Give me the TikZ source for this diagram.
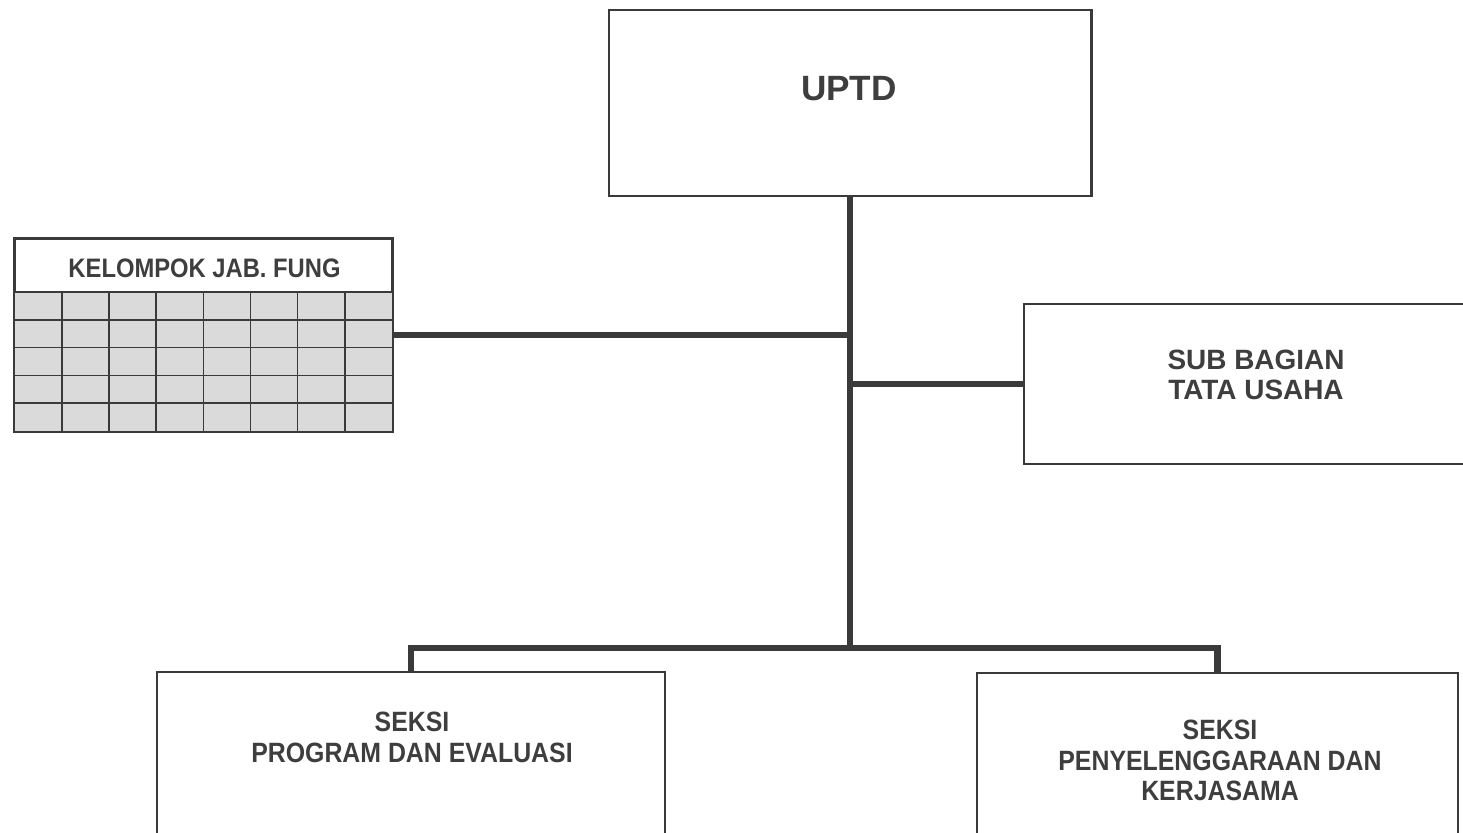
\documentclass[tikz,border=0pt]{standalone}
\usepackage{fontspec}
\setmainfont{Liberation Sans}
\newfontfamily\narrowsans{Liberation Sans}[FakeStretch=0.89]
\usepackage{tikz}
\usetikzlibrary{calc,positioning}
\usepackage{xcolor}
\definecolor{orgline}{RGB}{58,58,58}
\definecolor{orgtext}{RGB}{62,62,62}
\definecolor{orggrid}{RGB}{218,218,218}

\begin{document}
\begin{tikzpicture}[x=0.02cm,y=-0.02cm,
    orgbox/.style={draw=orgline,line width=1.2pt,rectangle,inner sep=0pt},
    orglabel/.style={text=orgtext,font=\bfseries\fontsize{15.9}{17.5}\selectfont,align=center,inner sep=0pt},
    orgnarrow/.style={orglabel,font=\narrowsans\bfseries\fontsize{15.9}{17.5}\selectfont},
    gridline/.style={draw=orgline,line width=1pt},
    conn/.style={draw=orgline,line width=3.8pt}]
    \useasboundingbox (0,0) rectangle (1463,832);
    \clip (0,0) rectangle (1463,832);

    \node[orgbox,minimum width=9.66cm,minimum height=3.72cm] (uptd) at (850,103) {};
    \node[orgbox,minimum width=7.54cm,minimum height=3.84cm] (jabfung) at (203.5,335) {};
    \node[orgbox,minimum width=9.02cm,minimum height=3.2cm] (sub) at (1249.5,384) {};
    \node[orgbox,minimum width=10.16cm,minimum height=3.46cm] (seksiprog) at (411,758.5) {};
    \node[orgbox,minimum width=9.62cm,minimum height=3.44cm] (seksikerja) at (1217.5,759) {};

    \fill[orggrid] (15,292) rectangle (392,431);
    \draw[gridline] (15,292) -- (392,292);
    \foreach \r in {1,...,4}
      \draw[gridline] (15,{292+27.8*\r}) -- (392,{292+27.8*\r});
    \foreach \c in {1,...,7}
      \draw[gridline] ({15+47.1*\c},292) -- ({15+47.1*\c},431);
    \draw[orgbox] (jabfung.south west) rectangle (jabfung.north east);

    \node[orglabel,font=\bfseries\fontsize{20}{22}\selectfont] (uptdlabel) at (849,89) {UPTD};
    \node[orgnarrow,font=\narrowsans\bfseries\fontsize{15.2}{16.5}\selectfont] (jablabel) at (204.5,268) {KELOMPOK JAB. FUNG};
    \node[orglabel] (sublabel) at (1256,375) {SUB BAGIAN\\TATA USAHA};
    \node[orgnarrow] (proglabel) at (412,737.5) {SEKSI\\PROGRAM DAN EVALUASI};
    \node[orgnarrow] (kerjalabel) at (1220,760.5) {SEKSI\\PENYELENGGARAAN DAN\\KERJASAMA};

    \coordinate (bus) at (850,648);
    \draw[conn] (uptd.south) -- (bus);
    \draw[conn] (seksiprog.north) |- (bus) -| (seksikerja.north);
    \draw[conn] (jabfung.east) -- (jabfung.east -| bus);
    \draw[conn] (sub.west -| bus) -- (sub.west);
  \end{tikzpicture}
\end{document}
